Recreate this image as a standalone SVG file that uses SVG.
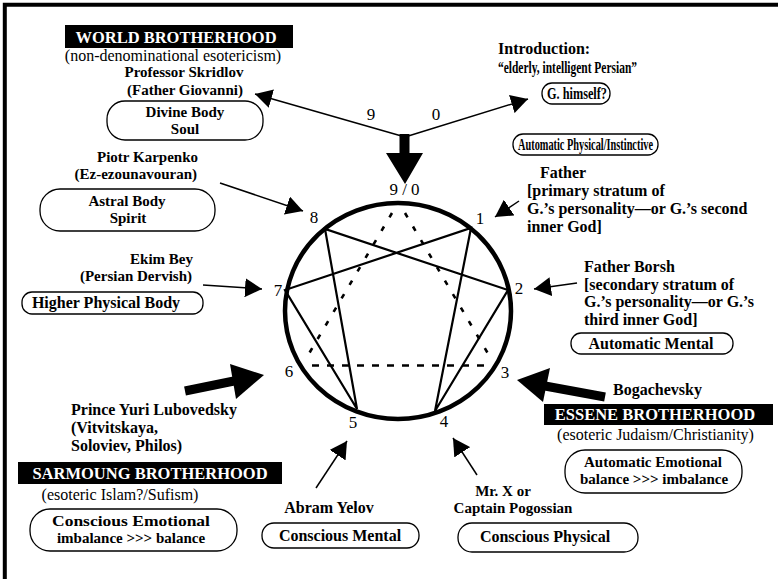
<svg xmlns="http://www.w3.org/2000/svg" width="778" height="579" viewBox="0 0 778 579">
<style>
text{font-family:"Liberation Serif","Times New Roman",serif;fill:#000}
.b{font-weight:bold;font-size:16px}
.s{font-weight:bold;font-size:15px}
.r{font-size:16px}
.hd{font-weight:bold;font-size:16.5px;fill:#fff}
.num{font-size:17px}
.c{text-anchor:middle}
.e{text-anchor:end}
.box{fill:#fff;stroke:#000;stroke-width:1.3}
.bar{fill:#000}
.thin{stroke:#000;stroke-width:1.5;fill:none;marker-end:url(#ah)}
.fat{stroke:#000;stroke-width:9;fill:none}
.hex{stroke:#000;stroke-width:2.2;fill:none;stroke-linecap:round}
.dsh{stroke:#000;stroke-width:2.6;fill:none}
</style>
<defs>
<marker id="ah" viewBox="0 0 17 19" refX="17" refY="9.5" markerWidth="17" markerHeight="19" markerUnits="userSpaceOnUse" orient="auto">
<path d="M0,0 L17,9.5 L0,19 Z" fill="#000"/>
</marker>
</defs>
<rect width="778" height="579" fill="#fff"/>
<path d="M4.8,579 V4.8 H778" fill="none" stroke="#000" stroke-width="4"/>

<g id="world-brotherhood">
<rect class="bar" x="65" y="25" width="228" height="23"/>
<text class="hd c" x="176" y="43">WORLD BROTHERHOOD</text>
<text class="r c" x="173" y="61">(non-denominational esotericism)</text>
</g>
<g id="skridlov">
<text class="s c" x="184" y="77">Professor Skridlov</text>
<text class="s c" x="185" y="94.5">(Father Giovanni)</text>
<rect class="box" x="107" y="101" width="156" height="39" rx="18"/>
<text class="s c" x="185" y="117">Divine Body</text>
<text class="s c" x="185" y="134">Soul</text>
</g>
<g id="introduction">
<text class="b" x="498" y="54">Introduction:</text>
<text class="b" x="498" y="73" textLength="139" lengthAdjust="spacingAndGlyphs">“elderly, intelligent Persian”</text>
<rect class="box" x="542" y="83" width="68" height="21" rx="10"/>
<text class="b c" x="577" y="99" textLength="60" lengthAdjust="spacingAndGlyphs">G. himself?</text>
</g>
<g id="automatic-physical">
<rect class="box" x="513" y="134" width="145" height="21" rx="10"/>
<text class="b c" x="585.5" y="150" textLength="135" lengthAdjust="spacingAndGlyphs">Automatic Physical/Instinctive</text>
</g>
<g id="father">
<text class="b" x="540" y="178">Father</text>
<text class="b" x="527" y="196">[primary stratum of</text>
<text class="b" x="527" y="214">G.’s personality—or G.’s second</text>
<text class="b" x="527" y="232">inner God]</text>
</g>
<g id="father-borsh">
<text class="b" x="584" y="272">Father Borsh</text>
<text class="b" x="584" y="289.5">[secondary stratum of</text>
<text class="b" x="584" y="307">G.’s personality—or G.’s</text>
<text class="b" x="584" y="324.5">third inner God]</text>
</g>
<g id="automatic-mental">
<rect class="box" x="571" y="333" width="162" height="21" rx="10"/>
<text class="b c" x="651" y="349">Automatic Mental</text>
</g>
<g id="bogachevsky">
<text class="b" x="613" y="395">Bogachevsky</text>
</g>
<g id="essene-brotherhood">
<rect class="bar" x="544" y="404" width="229" height="21"/>
<text class="hd c" x="655" y="419.5">ESSENE BROTHERHOOD</text>
<text class="r c" x="655.5" y="440">(esoteric Judaism/Christianity)</text>
</g>
<g id="automatic-emotional">
<rect class="box" x="565" y="450" width="177" height="43" rx="20"/>
<text class="s c" x="653" y="467">Automatic Emotional</text>
<text class="s c" x="654" y="484">balance &gt;&gt;&gt; imbalance</text>
</g>
<g id="mr-x">
<text class="s c" x="503" y="496">Mr. X or</text>
<text class="s c" x="513" y="513">Captain Pogossian</text>
</g>
<g id="conscious-physical">
<rect class="box" x="458" y="523" width="180" height="29" rx="14"/>
<text class="b c" x="545" y="542">Conscious Physical</text>
</g>
<g id="abram-yelov">
<text class="b c" x="329" y="513">Abram Yelov</text>
</g>
<g id="conscious-mental">
<rect class="box" x="262" y="523" width="157" height="25" rx="12"/>
<text class="b c" x="340" y="541">Conscious Mental</text>
</g>
<g id="prince-yuri">
<text class="b" x="71" y="415">Prince Yuri Lubovedsky</text>
<text class="b" x="71" y="433">(Vitvitskaya,</text>
<text class="b" x="71" y="451">Soloviev, Philos)</text>
</g>
<g id="sarmoung-brotherhood">
<rect class="bar" x="18" y="462" width="264" height="22"/>
<text class="hd c" x="150" y="478.5">SARMOUNG BROTHERHOOD</text>
<text class="r c" x="120" y="500">(esoteric Islam?/Sufism)</text>
</g>
<g id="conscious-emotional">
<rect class="box" x="30" y="509" width="207" height="42" rx="20"/>
<text class="s c" x="131" y="526" textLength="158" lengthAdjust="spacingAndGlyphs">Conscious Emotional</text>
<text class="s c" x="131" y="543">imbalance &gt;&gt;&gt; balance</text>
</g>
<g id="karpenko">
<text class="s e" x="198" y="161.5">Piotr Karpenko</text>
<text class="s e" x="197" y="178.5">(Ez-ezounavouran)</text>
</g>
<g id="astral-body">
<rect class="box" x="40" y="189" width="175" height="42" rx="20"/>
<text class="s c" x="127" y="206">Astral Body</text>
<text class="s c" x="128" y="223">Spirit</text>
</g>
<g id="ekim-bey">
<text class="s e" x="193" y="263.5">Ekim Bey</text>
<text class="s e" x="192" y="280.5">(Persian Dervish)</text>
</g>
<g id="higher-physical">
<rect class="box" x="22" y="292" width="181" height="22" rx="10"/>
<text class="b c" x="106" y="308">Higher Physical Body</text>
</g>

<g id="enneagram">
<ellipse cx="398" cy="311" rx="113" ry="108" fill="none" stroke="#000" stroke-width="4.5"/>
<path class="hex" d="M471,228 L435,411 L508,290 L325,229 L357,409 L285,290 Z"/>
<path class="dsh" d="M392,213 L307,357" stroke-dasharray="5 10.7"/>
<path class="dsh" d="M405,213 L490,357" stroke-dasharray="5 10.7"/>
<path class="dsh" d="M312,365.5 H488" stroke-dasharray="7 8"/>
<text class="num c" x="404.5" y="195">9 / 0</text>
<text class="num c" x="314" y="223">8</text>
<text class="num c" x="480" y="224">1</text>
<text class="num c" x="278" y="296">7</text>
<text class="num c" x="519" y="294">2</text>
<text class="num c" x="289" y="377">6</text>
<text class="num c" x="505" y="378">3</text>
<text class="num c" x="353" y="428">5</text>
<text class="num c" x="444" y="427">4</text>
<text class="num c" x="371" y="120">9</text>
<text class="num c" x="436" y="120">0</text>
</g>

<g id="connectors">
<polygon points="399.5,134 409.5,134 409.5,153 423,153 405,184 386,153 399.5,153" fill="#000"/>
<line class="thin" x1="405" y1="137" x2="255" y2="94"/>
<line class="thin" x1="405" y1="137" x2="528" y2="99"/>
<line class="thin" x1="220" y1="183" x2="303" y2="211"/>
<line class="thin" x1="203" y1="285" x2="262" y2="289"/>
<line class="thin" x1="519" y1="201" x2="495" y2="217"/>
<line class="thin" x1="577" y1="283" x2="534" y2="289"/>
<line class="thin" x1="316" y1="488" x2="347" y2="441"/>
<line class="thin" x1="477" y1="475" x2="453" y2="438"/>
<line class="fat" x1="605" y1="397" x2="545" y2="386"/>
<polygon points="550,368 517,380 543,402" fill="#000"/>
<line class="fat" x1="185" y1="391" x2="234" y2="381"/>
<polygon points="230,364 264,375 236,399" fill="#000"/>
</g>
</svg>
